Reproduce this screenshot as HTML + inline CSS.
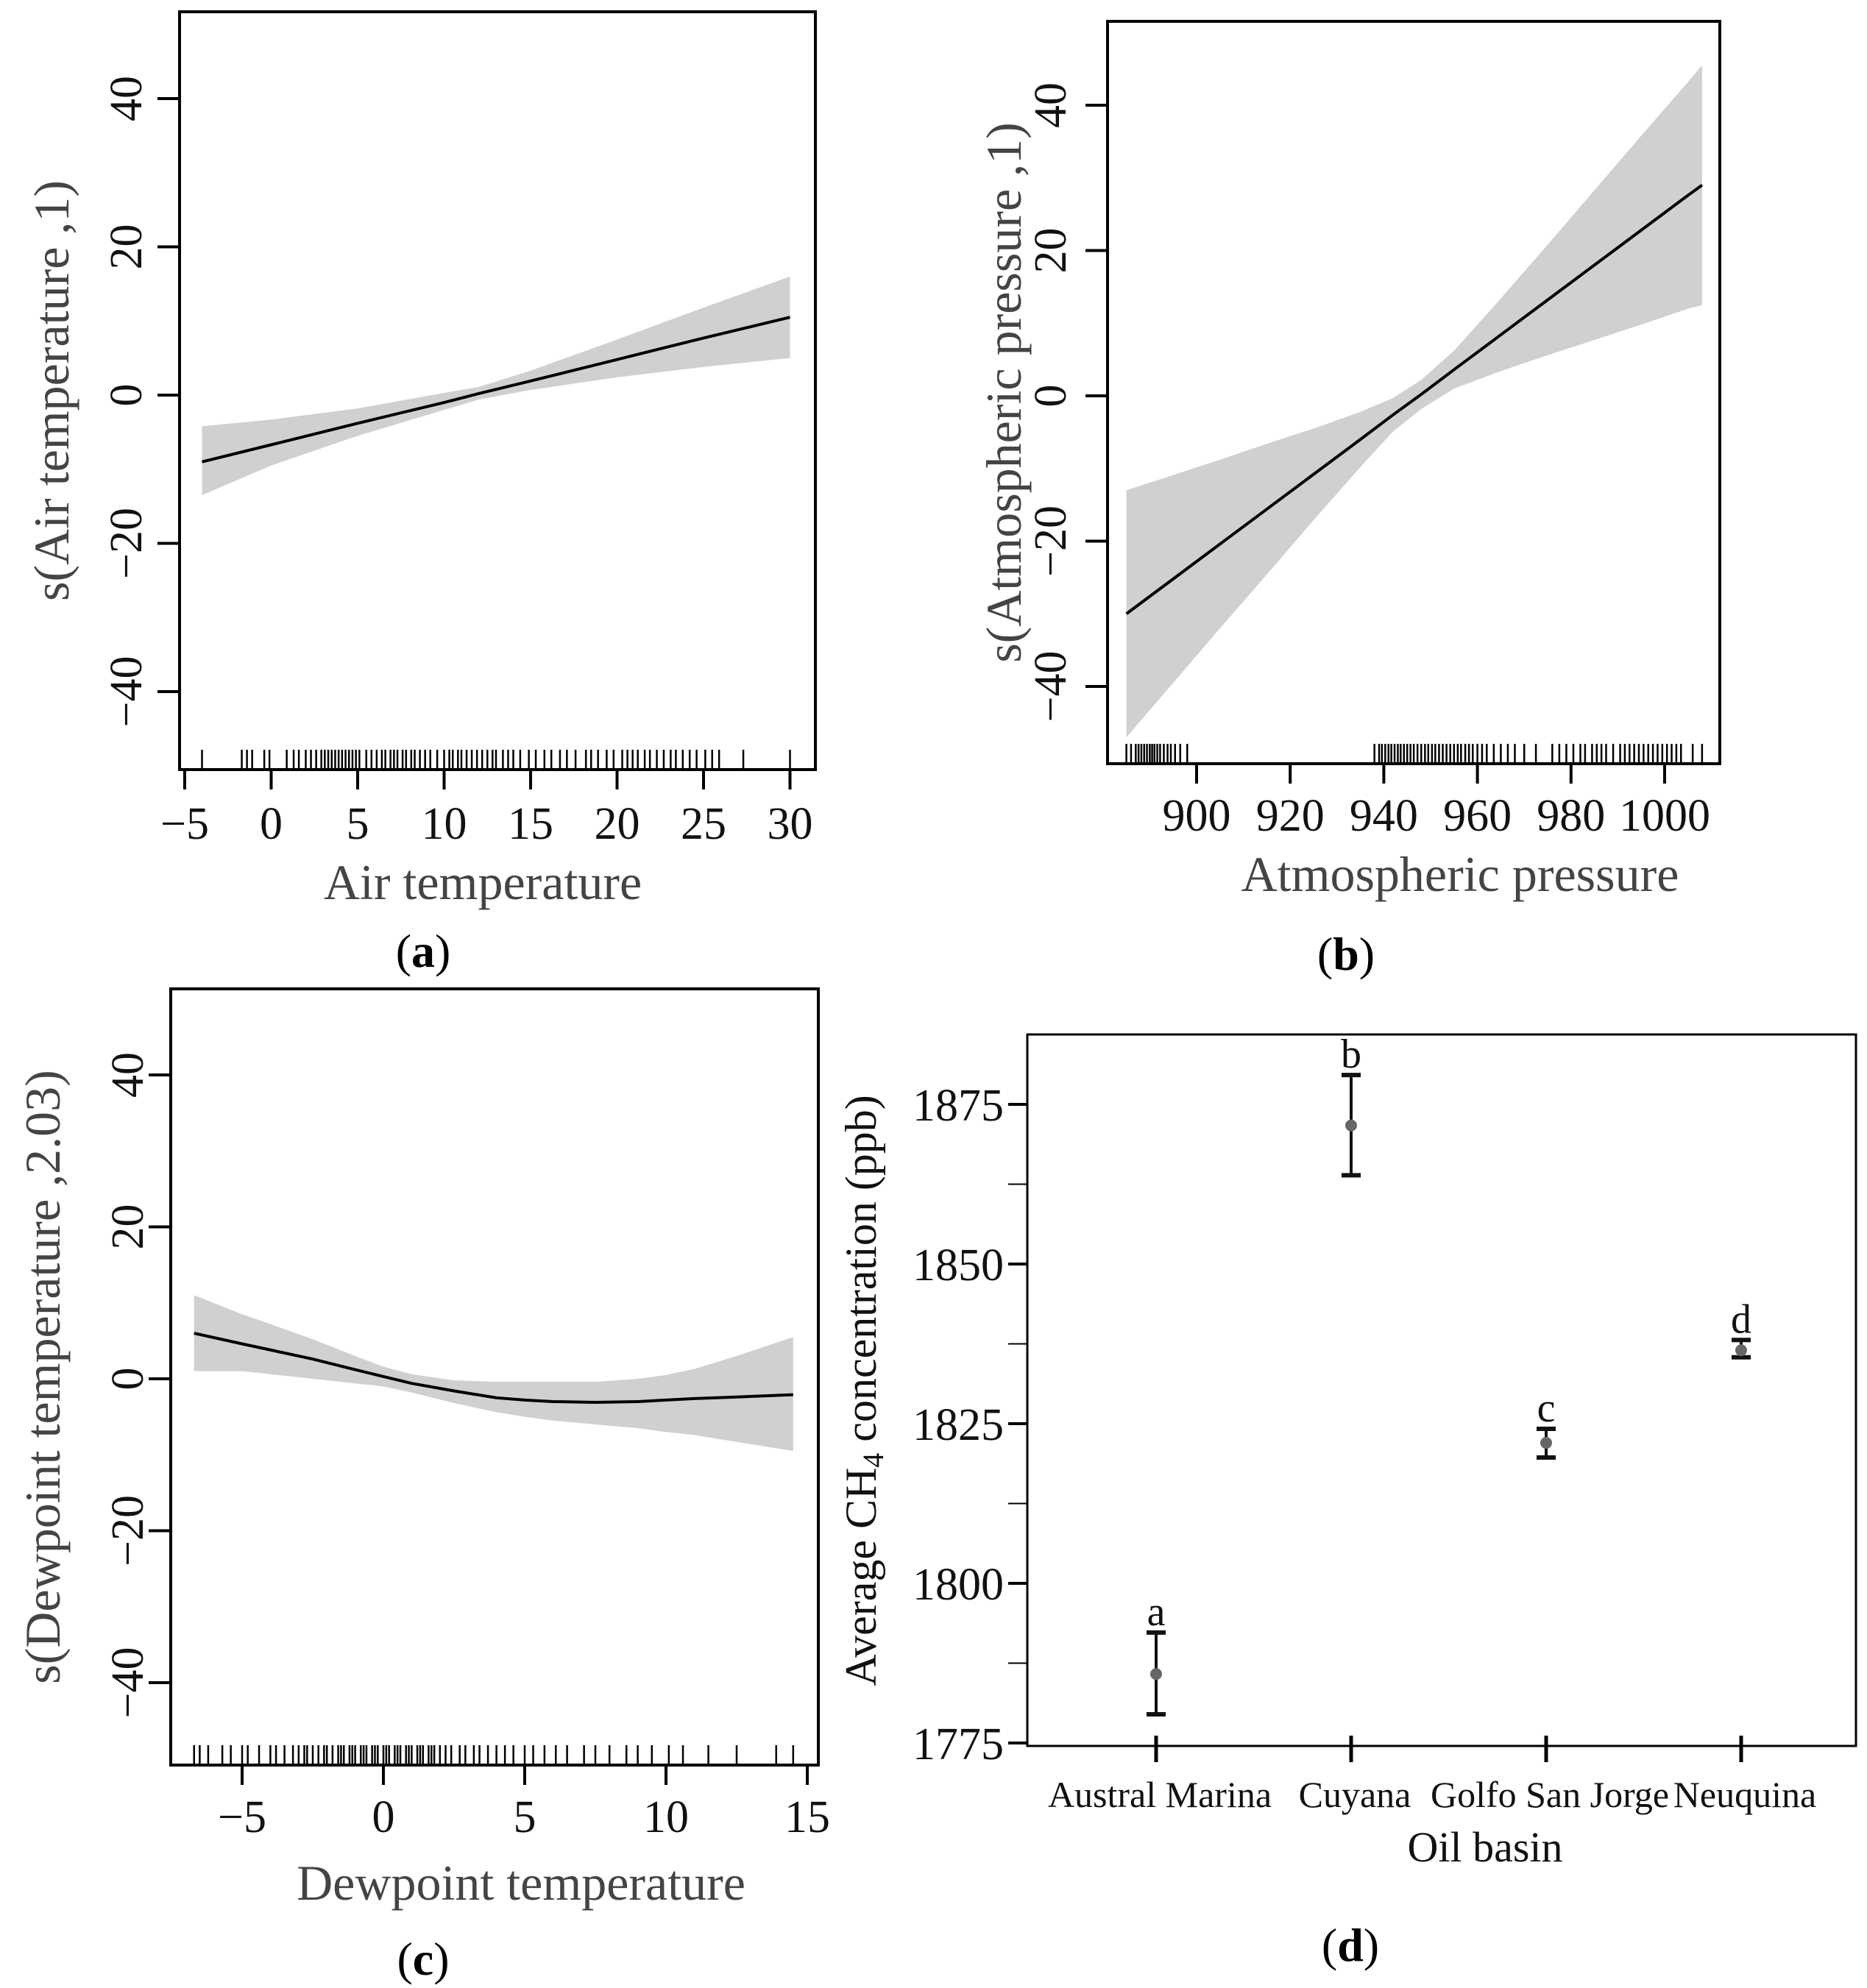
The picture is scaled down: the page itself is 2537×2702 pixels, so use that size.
<!DOCTYPE html>
<html><head><meta charset="utf-8">
<style>
html,body{margin:0;padding:0;background:#fff}
svg{display:block}
text{font-family:"Liberation Serif",serif}
</style></head>
<body>
<svg id="fig" width="2537" height="2702" viewBox="0 0 2537 2702" xmlns="http://www.w3.org/2000/svg"></svg>
<script>
// ---------- Panel (a) data ----------
const aX = [-4, 0, 5, 10, 12, 15, 20, 25, 30];
const aFit = [-9, -6.7, -3.8, -1, 0.2, 1.9, 4.8, 7.7, 10.5];
const aLo = [-13.5, -9.5, -5.5, -2, -0.6, 0.7, 2.4, 3.8, 5];
const aHi = [-4.2, -3.3, -1.8, 0.3, 1.1, 3.3, 7.5, 11.8, 16];
const aXTicks = [-5, 0, 5, 10, 15, 20, 25, 30];
const aYTicks = [-40, -20, 0, 20, 40];
const aRug = [-4,-1.7,-1.4,-1.1,-0.4,-0.1,0.9,1.3,1.6,2.0,2.3,2.6,2.9,3.1,3.3,3.5,3.7,3.9,4.1,4.3,4.5,4.7,4.9,5.1,5.5,5.8,6.1,6.4,6.6,6.9,7.1,7.3,7.6,7.8,8.1,8.3,8.6,8.9,9.2,9.6,10.0,10.3,10.5,10.8,11.0,11.3,11.6,11.9,12.2,12.5,12.8,13.0,13.4,13.7,14.0,14.4,14.9,15.3,15.8,16.2,16.7,17.1,17.6,18.2,18.5,18.9,19.4,19.8,20.3,20.6,20.9,21.2,21.6,21.9,22.3,22.7,23.1,23.4,23.8,24.2,24.6,25.1,25.5,25.9,27.3,30];

// ---------- Panel (b) data ----------
const bX = [885, 895, 905, 915, 925, 935, 942, 948, 955, 965, 975, 985, 995, 1005, 1008];
const bFit = [-30, -25.2, -20.4, -15.6, -10.8, -6, -2.6, 0.2, 3.6, 8.4, 13.2, 18, 22.8, 27.6, 29.0];
const bLo = [-47, -39.5, -32, -24.6, -17.1, -9.8, -4.9, -1.8, 1, 3.4, 5.6, 7.7, 9.8, 12, 12.5];
const bHi = [-13, -10.9, -8.8, -6.6, -4.5, -2.2, -0.3, 2.2, 6.2, 13.4, 20.8, 28.3, 35.8, 43.2, 45.5];
const bXTicks = [900, 920, 940, 960, 980, 1000];
const bYTicks = [-40, -20, 0, 20, 40];
const bRug = [885,886,887,887.6,888.2,888.8,889.4,890,890.5,891,891.6,892.2,893,893.8,894.5,895.4,896.5,898,938,939,939.6,940.3,941,941.6,942.3,943,943.6,944.3,945,945.7,946.4,947.2,948,948.8,949.5,950.3,951,951.8,952.6,953.4,954.2,955,955.8,956.5,957.4,958.2,959,960,961,962,963.5,965,966.5,968,970,972.5,976,977.5,979,980.5,982,983,984.5,985.5,986.5,987.5,989,990.5,991.5,992.5,993.5,994.5,995.5,996.5,997.5,998.5,999.5,1000.5,1001.5,1002.5,1003.5,1006,1008];

// ---------- Panel (c) data ----------
const cX = [-6.7, -5, -4, -2.5, -1, 0, 1, 2.5, 4, 5, 6, 7.5, 9, 10, 11, 12.5, 14.5];
const cFit = [6, 4.6, 3.8, 2.6, 1.2, 0.3, -0.6, -1.6, -2.5, -2.8, -3.0, -3.1, -3.0, -2.8, -2.6, -2.4, -2.1];
const cLo = [1, 1, 0.6, 0, -0.6, -1, -1.8, -3.2, -4.4, -5, -5.5, -6, -6.5, -7, -7.4, -8.3, -9.5];
const cHi = [11, 8.5, 7.2, 5.2, 3, 1.6, 0.6, -0.2, -0.4, -0.4, -0.4, -0.4, 0, 0.5, 1.3, 3, 5.5];
const cXTicks = [-5, 0, 5, 10, 15];
const cYTicks = [-40, -20, 0, 20, 40];
const cRug = [-6.7,-6.5,-6.2,-5.7,-5.4,-5.0,-4.8,-4.4,-4.0,-3.8,-3.5,-3.2,-3.0,-2.8,-2.7,-2.5,-2.3,-2.1,-2.0,-1.8,-1.6,-1.5,-1.4,-1.2,-1.1,-1.0,-0.8,-0.7,-0.6,-0.4,-0.3,-0.2,0,0.1,0.2,0.4,0.5,0.6,0.8,0.9,1.0,1.2,1.3,1.4,1.6,1.7,1.8,2.0,2.2,2.4,2.7,2.9,3.2,3.4,3.7,4.0,4.3,4.6,5.0,5.3,5.7,6.1,6.5,7.1,7.5,8.0,8.6,9.0,9.5,10.1,10.6,11.5,12.5,13.9,14.5];

// ---------- Panel (d) data ----------
const dCats = ["Austral Marina", "Cuyana", "Golfo San Jorge", "Neuquina"];
const dMean = [1785.8, 1871.7, 1822, 1836.5];
const dLo = [1779.5, 1863.9, 1819.7, 1835.4];
const dHi = [1792.3, 1879.6, 1824.2, 1838.1];
const dLetters = ["a", "b", "c", "d"];
const dYTicks = [1775, 1800, 1825, 1850, 1875];
const dMinor = [1787.5, 1812.5, 1837.5, 1862.5];

const NS = "http://www.w3.org/2000/svg";
const svg = document.getElementById("fig");
function el(tag, attrs, parent) {
  const e = document.createElementNS(NS, tag);
  for (const k in attrs) e.setAttribute(k, attrs[k]);
  (parent || svg).appendChild(e);
  return e;
}
function txt(s, attrs, parent) { const t = el("text", attrs, parent); t.textContent = s; return t; }

function gamPanel(p) {
  const g = el("g", {});
  
  
  const sx = v => p.x0px + (v - p.x0) * p.xs;
  const sy = v => p.y0px - v * p.ys;
  let d = "";
  p.xs_.forEach((x, i) => { d += (i ? "L" : "M") + sx(x) + "," + sy(p.hi[i]); });
  for (let i = p.xs_.length - 1; i >= 0; i--) d += "L" + sx(p.xs_[i]) + "," + sy(p.lo[i]);
  const band = el("path", { d: d + "Z", fill: "#d0d0d0", stroke: "none" }, g);
  
  
  let ld = "";
  p.xs_.forEach((x, i) => { ld += (i ? "L" : "M") + sx(x) + "," + sy(p.fit[i]); });
  const line = el("path", { d: ld, fill: "none", stroke: "#000", "stroke-width": 4, "stroke-linejoin": "round" }, g);
  
  
  const rug = el("g", {}, g);
  
  
  p.rug.forEach(v => {
    el("line", { x1: sx(v), x2: sx(v), y1: p.bottom - 27, y2: p.bottom, stroke: "#000", "stroke-width": 2.5 }, rug);
  });
  const fr = el("rect", { x: p.left, y: p.top, width: p.right - p.left, height: p.bottom - p.top, fill: "none", stroke: "#000", "stroke-width": 4 }, g);
  
  
  const xa = el("g", {}, g);
  
  
  p.xticks.forEach(v => {
    el("line", { x1: sx(v), x2: sx(v), y1: p.bottom, y2: p.bottom + 27, stroke: "#000", "stroke-width": 4 }, xa);
    txt(String(v).replace("-", "\u2212"), { x: sx(v), y: p.xlabY + 22, "text-anchor": "middle", "font-size": 62, fill: "#111" }, xa);
  });
  const xt = txt(p.xtitle, { x: p.xtitleX, y: p.xtitleY + 22, "text-anchor": "middle", "font-size": 68, fill: "#444" }, g);
  
  
  const ya = el("g", {}, g);
  
  
  p.yticks.forEach(v => {
    el("line", { x1: p.left - 30, x2: p.left, y1: sy(v), y2: sy(v), stroke: "#000", "stroke-width": 4 }, ya);
    txt(String(v).replace("-", "\u2212"), { x: 0, y: 0, transform: `translate(${p.ylabX + 22},${sy(v)}) rotate(-90)`, "text-anchor": "middle", "font-size": 62, fill: "#111" }, ya);
  });
  const yt = txt(p.ytitle, { x: 0, y: 0, transform: `translate(${p.ytitleX + 24},${(p.top + p.bottom) / 2}) rotate(-90)`, "text-anchor": "middle", "font-size": 68, fill: "#444" }, g);
  
  
  const pl = txt("", { x: p.labX, y: p.labY + 22, "text-anchor": "middle", "font-size": 64, fill: "#000" }, g);
  
  
  const t1 = el("tspan", {}, pl); t1.textContent = "(";
  const t2 = el("tspan", { "font-weight": "bold" }, pl); t2.textContent = p.letter;
  const t3 = el("tspan", {}, pl); t3.textContent = ")";
}

gamPanel({ name: "panel-a-air-temperature", left: 244, right: 1108, top: 16, bottom: 1046,
  x0: -5, x0px: 251, xs: 23.5, y0px: 537, ys: 10.075,
  xs_: aX, fit: aFit, lo: aLo, hi: aHi, rug: aRug, xticks: aXTicks, yticks: aYTicks,
  xlabY: 1118, xtitleY: 1200, xtitleX: 656, xtitle: "Air temperature", ylabX: 170, ytitleX: 69,
  ytitle: "s(Air temperature ,1)", labY: 1292, labX: 575, letter: "a" });

gamPanel({ name: "panel-b-atmospheric-pressure", left: 1505, right: 2337, top: 29, bottom: 1038,
  x0: 900, x0px: 1626, xs: 6.36, y0px: 538, ys: 9.875,
  xs_: bX, fit: bFit, lo: bLo, hi: bHi, rug: bRug, xticks: bXTicks, yticks: bYTicks,
  xlabY: 1107, xtitleY: 1189, xtitleX: 1984, xtitle: "Atmospheric pressure", ylabX: 1426, ytitleX: 1363,
  ytitle: "s(Atmospheric pressure ,1)", labY: 1296, labX: 1829, letter: "b" });

gamPanel({ name: "panel-c-dewpoint-temperature", left: 232, right: 1112, top: 1344, bottom: 2399,
  x0: -5, x0px: 329, xs: 38.4, y0px: 1874, ys: 10.325,
  xs_: cX, fit: cFit, lo: cLo, hi: cHi, rug: cRug, xticks: cXTicks, yticks: cYTicks,
  xlabY: 2468, xtitleY: 2560, xtitleX: 708, xtitle: "Dewpoint temperature", ylabX: 172, ytitleX: 57,
  ytitle: "s(Dewpoint temperature ,2.03)", labY: 2662, labX: 575, letter: "c" });

(function () {
  const L = 1396, R = 2522, T = 1406, B = 2373;
  const catX = i => 1571 + i * 265;
  const sy = v => 2369 - (v - 1775) * 8.68;
  const g = el("g", {});
  
  
  const fr = el("rect", { x: L, y: T, width: R - L, height: B - T, fill: "none", stroke: "#000", "stroke-width": 3 }, g);
  
  
  const ya = el("g", {}, g);
  
  
  dYTicks.forEach(v => {
    el("line", { x1: L - 26, x2: L, y1: sy(v), y2: sy(v), stroke: "#000", "stroke-width": 4 }, ya);
    txt(String(v), { x: L - 32, y: sy(v) + 22, "text-anchor": "end", "font-size": 62, fill: "#111" }, ya);
  });
  dMinor.forEach(v => {
    el("line", { x1: L - 26, x2: L, y1: sy(v), y2: sy(v), stroke: "#000", "stroke-width": 2 }, ya);
  });
  const yt = el("text", { x: 0, y: 0, transform: `translate(1190,1890) rotate(-90)`, "text-anchor": "middle", "font-size": 60, fill: "#111" }, g);
  
  
  const s1 = el("tspan", {}, yt); s1.textContent = "Average CH";
  const s2 = el("tspan", { "font-size": 40, dy: 10 }, yt); s2.textContent = "4";
  const s3 = el("tspan", { dy: -10 }, yt); s3.textContent = " concentration (ppb)";
  const xa = el("g", {}, g);
  
  
  dCats.forEach((c, i) => {
    el("line", { x1: catX(i), x2: catX(i), y1: B - 14, y2: B + 22, stroke: "#000", "stroke-width": 5 }, xa);
    txt(c, { x: catX(i) + 5, y: 2456, "text-anchor": "middle", "font-size": 50, fill: "#111" }, xa);
  });
  const xt = txt("Oil basin", { x: 2018, y: 2530, "text-anchor": "middle", "font-size": 58, fill: "#111" }, g);
  
  
  dCats.forEach((c, i) => {
    const e = el("g", {}, g);
    
    
    const x = catX(i);
    el("line", { x1: x, x2: x, y1: sy(dHi[i]), y2: sy(dLo[i]), stroke: "#111", "stroke-width": 4 }, e);
    el("line", { x1: x - 13, x2: x + 13, y1: sy(dHi[i]), y2: sy(dHi[i]), stroke: "#111", "stroke-width": 6 }, e);
    el("line", { x1: x - 13, x2: x + 13, y1: sy(dLo[i]), y2: sy(dLo[i]), stroke: "#111", "stroke-width": 6 }, e);
    el("circle", { cx: x, cy: sy(dMean[i]), r: 8, fill: "#666" }, e);
    txt(dLetters[i], { x: x, y: sy(dHi[i]) - 10, "text-anchor": "middle", "font-size": 56, fill: "#111" }, e);
  });
  const pl = txt("", { x: 1835, y: 2665, "text-anchor": "middle", "font-size": 64, fill: "#000" }, g);
  
  
  const t1 = el("tspan", {}, pl); t1.textContent = "(";
  const t2 = el("tspan", { "font-weight": "bold" }, pl); t2.textContent = "d";
  const t3 = el("tspan", {}, pl); t3.textContent = ")";
})();
</script>
</body></html>
